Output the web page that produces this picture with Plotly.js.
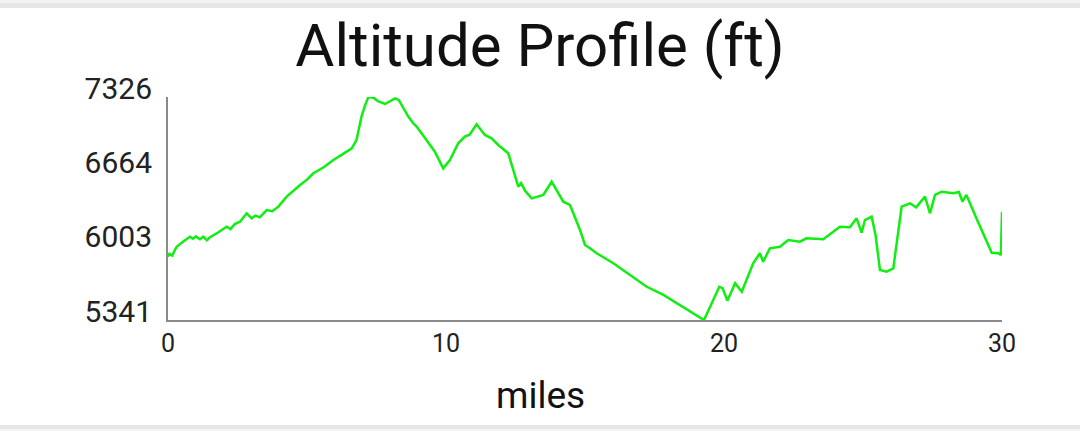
<!DOCTYPE html>
<html>
<head>
<meta charset="utf-8">
<script src="https://cdn.plot.ly/plotly-3.0.1.min.js"></script>
<style>
  html, body { margin: 0; padding: 0; background: #ffffff; }
  #chart { width: 1080px; height: 431px; }
</style>
</head>
<body>
<div id="chart"></div>
<script>
// Distance along the route (miles)
const miles = [
  0.00, 0.05, 0.15, 0.31, 0.55, 0.79, 0.90, 1.00, 1.15, 1.27, 1.40, 1.50, 1.80, 2.11, 2.25, 2.40, 2.59, 2.83, 3.01, 3.15,
  3.30, 3.45, 3.55, 3.75, 3.97, 4.27, 4.50, 4.75, 5.00, 5.23, 5.60, 5.95, 6.30, 6.61, 6.78, 6.96, 7.10, 7.21, 7.39,
  7.55, 7.81, 8.00, 8.17, 8.30, 8.46, 8.65, 8.82, 8.95, 9.12, 9.30, 9.60, 9.90, 10.14, 10.44, 10.68, 10.85, 11.10,
  11.40, 11.64, 11.88, 12.24, 12.60, 12.70, 12.85, 13.08, 13.50, 13.80, 14.22, 14.46, 14.82, 15.00, 15.18, 15.42,
  16.02, 16.62, 17.22, 17.82, 18.42, 18.90, 19.28, 19.56, 19.83, 19.95, 20.12, 20.40, 20.64, 21.05, 21.29, 21.41,
  21.65, 22.01, 22.31, 22.73, 22.97, 23.57, 24.17, 24.53, 24.77, 24.95, 25.07, 25.31, 25.45, 25.61, 25.85, 26.09,
  26.25, 26.39, 26.69, 26.91, 27.23, 27.41, 27.59, 27.83, 28.25, 28.45, 28.58, 28.72, 29.08, 29.39, 29.63,
  29.87, 29.96, 30.00
];
// Altitude (ft)
const altitude = [
  5904, 5930, 5915, 5993, 6040, 6082, 6065, 6085, 6060, 6082, 6050, 6075, 6120, 6171, 6150, 6195, 6216, 6291, 6246, 6270,
  6255, 6300, 6320, 6310, 6350, 6439, 6490, 6543, 6590, 6647, 6700, 6765, 6820, 6869, 6943, 7151, 7260, 7326, 7320,
  7290, 7264, 7290, 7314, 7300, 7225, 7150, 7092, 7060, 7003, 6943, 6839, 6691, 6765, 6914, 6973, 6990, 7083,
  6988, 6958, 6899, 6825, 6528, 6560, 6490, 6424, 6454, 6572, 6394, 6365, 6142, 6009, 5979, 5935,
  5846, 5742, 5637, 5564, 5475, 5401, 5341, 5490, 5637, 5625, 5513, 5668, 5593, 5846, 5935, 5860,
  5979, 5993, 6053, 6038, 6068, 6059, 6171, 6166, 6246, 6118, 6231, 6261, 6100, 5786, 5771, 5801,
  6100, 6350, 6380, 6344, 6439, 6291, 6454, 6483, 6469, 6480, 6394, 6454, 6246, 6082, 5940,
  5935, 5920, 6305
];
// Axis tick labels
const xTicks = [0, 10, 20, 30];
const yTicks = [5341, 6003, 6664, 7326];

const trace = {
  x: miles,
  y: altitude,
  type: 'scatter',
  mode: 'lines',
  line: { color: '#11ee11', width: 2.5 },
  hoverinfo: 'x+y'
};

const layout = {
  width: 1080,
  height: 431,
  margin: { l: 168, r: 78, t: 97, b: 111, pad: 0 },
  paper_bgcolor: '#ffffff',
  plot_bgcolor: '#ffffff',
  showlegend: false,
  font: { family: 'Roboto, "Noto Sans", sans-serif', color: '#222222' },
  title: {
    text: 'Altitude Profile (ft)',
    font: { family: 'Roboto, sans-serif', size: 60, color: '#111111' },
    x: 0.5, xref: 'container', xanchor: 'center',
    y: 1 - 45 / 431, yref: 'container', yanchor: 'middle'
  },
  xaxis: {
    range: [0, 30],
    tickvals: xTicks,
    ticktext: xTicks.map(String),
    showgrid: false,
    zeroline: false,
    showline: true,
    linecolor: '#8a8a8a',
    linewidth: 2,
    ticks: '',
    ticklabelstandoff: 0,
    tickfont: { size: 25, color: '#222222' },
    fixedrange: true
  },
  yaxis: {
    range: [5341, 7326],
    tickvals: yTicks,
    ticktext: yTicks.map(String),
    showgrid: false,
    zeroline: false,
    showline: true,
    linecolor: '#8a8a8a',
    linewidth: 2,
    ticks: '',
    ticklabelstandoff: 8,
    ticklabelshift: -9,
    tickfont: { size: 30, color: '#222222' },
    fixedrange: true
  },
  annotations: [{
    text: 'miles',
    xref: 'paper', yref: 'paper',
    x: (540 - 168) / 834, y: (320 - 395) / 223,
    xanchor: 'center', yanchor: 'middle',
    showarrow: false,
    font: { family: 'Roboto, sans-serif', size: 37, color: '#111111' }
  }],
  shapes: [
    { type: 'rect', xref: 'paper', yref: 'paper', x0: -168 / 834, x1: 912 / 834,
      y0: (320 - 3) / 223, y1: 320 / 223, fillcolor: '#f3f3f3', line: { width: 0 }, layer: 'below' },
    { type: 'rect', xref: 'paper', yref: 'paper', x0: -168 / 834, x1: 912 / 834,
      y0: (320 - 8) / 223, y1: (320 - 3) / 223, fillcolor: '#e6e6e6', line: { width: 0 }, layer: 'below' },
    { type: 'rect', xref: 'paper', yref: 'paper', x0: -168 / 834, x1: 912 / 834,
      y0: (320 - 429) / 223, y1: (320 - 425) / 223, fillcolor: '#e6e6e6', line: { width: 0 }, layer: 'below' },
    { type: 'rect', xref: 'paper', yref: 'paper', x0: -168 / 834, x1: 912 / 834,
      y0: (320 - 431) / 223, y1: (320 - 429) / 223, fillcolor: '#f3f3f3', line: { width: 0 }, layer: 'below' }
  ]
};

Plotly.newPlot('chart', [trace], layout, { displayModeBar: false, staticPlot: true });
</script>
</body>
</html>
